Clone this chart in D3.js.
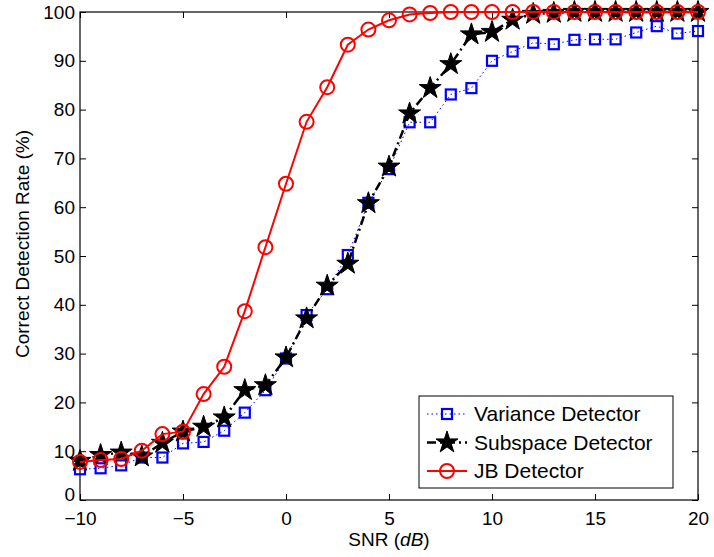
<!DOCTYPE html>
<html>
<head>
<meta charset="utf-8">
<script src="https://cdn.jsdelivr.net/npm/d3@7"></script>
<style>
  body { margin: 0; background: #fff; }
  text { font-family: "Liberation Sans", Arial, sans-serif; }
</style>
</head>
<body>
<div id="graph"></div>
<script>
// SNR values (dB)
var snr = [-10,-9,-8,-7,-6,-5,-4,-3,-2,-1,0,1,2,3,4,5,6,7,8,9,10,11,12,13,14,15,16,17,18,19,20]

var varianceRate = [6.3,6.5,7.1,8.7,8.7,11.6,11.9,14.2,17.9,22.5,29.0,37.9,43.2,50.2,60.9,67.8,77.4,77.4,83.1,84.4,90.0,91.9,93.7,93.4,94.3,94.4,94.4,95.8,97.1,95.6,96.1]
var subspaceRate = [8.0,9.2,9.7,8.9,11.7,14.0,15.0,16.9,22.5,23.5,29.2,37.2,43.9,48.4,60.8,68.3,79.2,84.4,89.3,95.4,95.9,98.4,99.6,99.8,100,100,100,100,100,100,100]
var jbRate       = [7.8,8.2,8.4,10.1,13.5,14.0,21.7,27.3,38.7,51.8,64.8,77.5,84.6,93.3,96.4,98.3,99.5,99.8,100,100,100,100,100,100,100,100,100,100,100,100,100]

var xTicks = [-10,-5,0,5,10,15,20]
var yTicks = [0,10,20,30,40,50,60,70,80,90,100]

var width = 714, height = 557
var margin = {top: 12, left: 80, bottom: 57, right: 16}
var chartWidth = width - margin.left - margin.right
var chartHeight = height - margin.top - margin.bottom

var svg = d3.select("#graph").append("svg")
            .attr("width", width).attr("height", height)

var chartLayer = svg.append("g")
                    .attr("transform", "translate(" + [margin.left, margin.top] + ")")

var x = d3.scaleLinear().domain([-10, 20]).range([0, chartWidth])
var y = d3.scaleLinear().domain([0, 100]).range([chartHeight, 0])

// axes box with inward ticks
function styleAxis(g) {
    g.select(".domain").remove()
    g.selectAll("line").attr("stroke", "#000").attr("stroke-width", 1)
    g.selectAll("text").attr("font-size", "19px").attr("fill", "#000")
}

chartLayer.append("g")
    .attr("transform", "translate(0," + chartHeight + ")")
    .call(d3.axisBottom(x).tickValues(xTicks).tickSize(-6).tickPadding(12)
          .tickFormat(function(d){ return d < 0 ? "\u2212" + Math.abs(d) : d }))
    .call(styleAxis)

chartLayer.append("g")
    .call(d3.axisTop(x).tickValues(xTicks).tickSize(-6).tickFormat(""))
    .call(styleAxis)

chartLayer.append("g")
    .call(d3.axisLeft(y).tickValues(yTicks).tickSize(-6).tickPadding(5))
    .call(styleAxis)
    .selectAll("text")
    .filter(function(d){ return d == 0 })
    .attr("dy", "0.05em")

chartLayer.append("g")
    .attr("transform", "translate(" + chartWidth + ",0)")
    .call(d3.axisRight(y).tickValues(yTicks).tickSize(-6).tickFormat(""))
    .call(styleAxis)

chartLayer.append("rect")
    .attr("width", chartWidth).attr("height", chartHeight)
    .attr("fill", "none").attr("stroke", "#000").attr("stroke-width", 1.2)

// labels
svg.append("text")
   .attr("x", margin.left + chartWidth / 2).attr("y", 546)
   .attr("text-anchor", "middle").attr("font-size", "19px")
   .html('SNR (<tspan font-style="italic">dB</tspan>)')

svg.append("text")
   .attr("transform", "translate(29,244) rotate(-90)")
   .attr("text-anchor", "middle").attr("font-size", "19px")
   .text("Correct Detection Rate (%)")

var line = d3.line().x(function(d){ return x(d[0]) }).y(function(d){ return y(d[1]) })
var star = d3.symbol().type(d3.symbolStar).size(150)

var series = [
    {name: "Variance Detector", values: varianceRate, color: "#0000ff", dash: "1.5,3", width: 1, marker: "square"},
    {name: "Subspace Detector", values: subspaceRate, color: "#000000", dash: "9,4,2,4", width: 2.5, marker: "star"},
    {name: "JB Detector",       values: jbRate,       color: "#ff0000", dash: null, width: 2, marker: "circle"}
]

function drawMarker(g, s, cx, cy) {
    if (s.marker == "square") {
        g.append("rect").attr("x", cx - 5).attr("y", cy - 5).attr("width", 10).attr("height", 10)
         .attr("fill", "none").attr("stroke", s.color).attr("stroke-width", 2.2)
    } else if (s.marker == "star") {
        g.append("path").attr("d", star).attr("transform", "translate(" + [cx, cy] + ")")
         .attr("fill", "#000").attr("stroke", "#000").attr("stroke-width", 1)
    } else {
        g.append("circle").attr("cx", cx).attr("cy", cy).attr("r", 7)
         .attr("fill", "none").attr("stroke", s.color).attr("stroke-width", 2)
    }
}

var plot = chartLayer.append("g")
series.forEach(function(s) {
    var pts = snr.map(function(d, i){ return [d, s.values[i]] })
    var g = plot.append("g")
    g.append("path").datum(pts).attr("d", line)
     .attr("fill", "none").attr("stroke", s.color).attr("stroke-width", s.width)
     .attr("stroke-dasharray", s.dash)
    pts.forEach(function(p){ drawMarker(g, s, x(p[0]), y(p[1])) })
})

// legend
var legend = svg.append("g").attr("transform", "translate(419,396)")
legend.append("rect").attr("width", 254).attr("height", 92)
      .attr("fill", "#fff").attr("stroke", "#000").attr("stroke-width", 1)
series.forEach(function(s, i) {
    var ly = 18 + i * 28.5
    var g = legend.append("g")
    g.append("line").attr("x1", 8).attr("x2", 48).attr("y1", ly).attr("y2", ly)
     .attr("stroke", s.color).attr("stroke-width", s.width).attr("stroke-dasharray", s.dash)
    drawMarker(g, s, 28, ly)
    g.append("text").attr("x", 55).attr("y", ly + 7).attr("font-size", "21px").text(s.name)
})
</script>
</body>
</html>
